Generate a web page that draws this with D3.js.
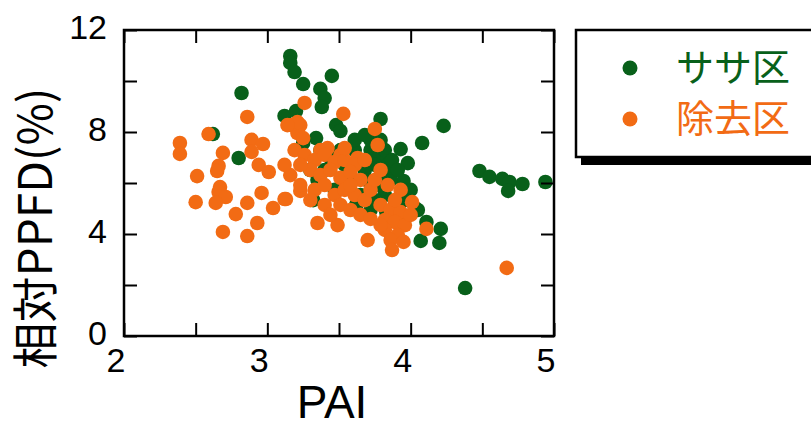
<!DOCTYPE html>
<html><head><meta charset="utf-8">
<script src="https://cdn.jsdelivr.net/npm/d3@7"></script>
<style>body{margin:0;background:#fff}svg{display:block}</style>
</head><body>
<svg id="c" width="811" height="428"></svg>
<script>
const seriesNames = ["ササ区", "除去区"];
const seriesColors = ["#08601a", "#f26b14"];
const xTickLabels = [2, 3, 4, 5];
const yTickLabels = [0, 4, 8, 12];
const xLabel = "PAI";
const yLabel = "相対PPFD(%)";

const sasaPAI = [3.16,3.16,3.19,3.25,3.45,3.37,3.40,3.38,3.12,3.20,3.48,3.51,3.79,4.23,4.08,3.93,3.98,3.34,3.25,2.82,2.62,2.80,4.48,4.55,4.64,4.69,4.68,4.78,4.94,3.82,3.84,3.95,4.00,4.05,4.11,4.21,4.07,4.20,4.38,
 3.72,3.77,3.82,3.75,3.68,3.79,3.86,3.73,3.65,3.61,3.58,3.54,3.82,3.89,3.75,3.65,3.54,3.51,3.44,3.40,3.35,3.30,3.61,3.72,3.87,3.91,3.69,3.81,3.62,3.72,3.83,3.91,3.96,3.37,3.47,3.32,4.03,3.79,3.68];
const sasaPPFD = [10.98,10.71,10.35,9.88,10.20,9.69,9.33,8.98,8.63,8.82,8.27,8.04,8.51,8.24,7.57,7.33,6.78,7.76,7.57,9.53,7.92,6.98,6.47,6.24,6.16,6.04,5.69,5.96,6.04,6.78,6.43,6.08,5.73,4.94,4.47,4.20,3.73,3.65,1.88,
 7.29,7.10,7.29,6.71,6.51,6.31,6.12,5.92,6.90,7.29,6.31,6.71,5.53,5.14,5.33,5.53,5.92,7.29,6.98,6.51,6.12,6.51,7.69,7.69,6.90,6.51,6.12,5.80,5.14,4.94,4.86,4.55,5.33,7.29,5.73,5.33,5.02,7.69,7.88];

const jokyoPAI = [2.39,2.39,2.59,2.86,3.26,2.69,2.89,2.97,2.89,2.66,2.65,2.51,2.94,3.01,2.67,2.66,2.71,2.50,2.64,2.86,2.78,2.96,2.93,2.69,2.86,3.04,3.13,3.23,3.35,3.49,3.17,3.23,3.21,3.25,3.21,3.14,3.53,3.75,3.77,3.37,3.42,3.51,3.63,
 3.19,3.26,3.33,3.40,3.47,3.54,3.61,3.30,3.37,3.44,3.51,3.58,3.65,3.23,3.16,3.23,3.33,3.40,3.47,3.54,3.61,3.68,3.30,3.40,3.51,3.58,3.65,3.44,3.72,3.75,3.79,3.58,3.54,3.68,3.12,3.12,
 3.79,3.86,3.93,3.82,3.89,3.96,3.82,3.91,3.86,3.95,3.87,3.79,4.00,3.70,3.84,3.93,3.89,4.01,4.11,4.67,3.72];
const jokyoPPFD = [7.57,7.14,7.92,8.59,9.14,7.18,7.69,7.53,7.22,6.67,6.47,6.27,6.71,6.43,5.84,5.65,5.45,5.25,5.22,5.22,4.78,5.61,4.43,4.08,3.92,5.02,5.37,5.69,4.43,4.35,8.27,8.27,7.96,7.76,8.39,8.27,8.71,8.12,7.49,7.29,7.37,7.10,6.98,
 7.29,7.10,6.90,7.10,6.82,6.90,6.71,6.51,6.31,6.51,6.20,6.43,6.12,6.71,6.31,5.92,5.73,5.92,5.53,5.73,5.53,5.33,5.33,5.14,5.14,4.94,4.75,4.75,5.73,6.12,6.51,5.92,7.37,6.90,6.71,5.37,
 5.14,4.94,4.86,4.55,4.47,4.35,4.16,3.96,3.76,3.69,3.37,4.35,4.75,3.76,5.92,5.73,5.33,5.25,4.20,2.67,4.59];

const svg = d3.select("#c");
const L = 124, R = 554, T = 30, B = 336;
const x = d3.scaleLinear().domain([2, 5]).range([L, R]);
const y = d3.scaleLinear().domain([0, 12]).range([B, T]);
const fontLatin = "'Liberation Sans', Arial, sans-serif";
const fontCJK = "'Noto Sans CJK JP', 'Liberation Sans', sans-serif";

// points
const sets = [[sasaPAI, sasaPPFD], [jokyoPAI, jokyoPPFD]];
sets.forEach((s, i) => {
  svg.append("g").selectAll("circle").data(s[0].map((v, j) => [v, s[1][j]])).join("circle")
    .attr("cx", d => x(d[0])).attr("cy", d => y(d[1])).attr("r", 7.3)
    .attr("fill", seriesColors[i]);
});

// axes with inward ticks on all sides
const xt = d3.range(2, 5.01, 0.5), yt = d3.range(0, 12.01, 2);
const ax = [
  d3.axisBottom(x).tickValues(xt).tickSize(-13).tickFormat(""),
  d3.axisTop(x).tickValues(xt).tickSize(-13).tickFormat(""),
  d3.axisLeft(y).tickValues(yt).tickSize(-13).tickFormat(""),
  d3.axisRight(y).tickValues(yt).tickSize(-13).tickFormat("")
];
const tr = [`translate(0,${B})`, `translate(0,${T})`, `translate(${L},0)`, `translate(${R},0)`];
ax.forEach((a, i) => {
  const g = svg.append("g").attr("transform", tr[i]).call(a);
  g.select(".domain").remove();
  g.selectAll("line").attr("stroke", "#000").attr("stroke-width", 2);
});
svg.append("rect").attr("x", L).attr("y", T).attr("width", R - L).attr("height", B - T)
  .attr("fill", "none").attr("stroke", "#000").attr("stroke-width", 2.5);

// tick labels
svg.append("g").selectAll("text").data(xTickLabels).join("text")
  .attr("x", d => x(d) - 8).attr("y", 372).attr("text-anchor", "middle")
  .attr("font-family", fontLatin).attr("font-size", 34).text(d => d);
svg.append("g").selectAll("text").data(yTickLabels).join("text")
  .attr("x", 107).attr("y", d => y(d) + 9).attr("text-anchor", "end")
  .attr("font-family", fontLatin).attr("font-size", 34).text(d => d);

// axis titles
svg.append("text").attr("x", 332).attr("y", 418).attr("text-anchor", "middle")
  .attr("font-family", fontLatin).attr("font-size", 46).text(xLabel);
svg.append("text").attr("transform", "translate(52,228) rotate(-90)").attr("text-anchor", "middle")
  .attr("font-family", fontCJK).attr("font-size", 46).text(yLabel);

// legend
const lg = svg.append("g");
lg.append("rect").attr("x", 581).attr("y", 36).attr("width", 260).attr("height", 129).attr("fill", "#000");
lg.append("rect").attr("x", 576).attr("y", 30).attr("width", 260).attr("height", 127)
  .attr("fill", "#fff").attr("stroke", "#000").attr("stroke-width", 2.5);
seriesNames.forEach((n, i) => {
  const cy = 68 + i * 51;
  lg.append("circle").attr("cx", 630).attr("cy", cy).attr("r", 7.5).attr("fill", seriesColors[i]);
  lg.append("text").attr("x", 676).attr("y", cy + 13).attr("font-family", fontCJK)
    .attr("font-size", 38).attr("fill", seriesColors[i]).text(n);
});
</script>
</body></html>
